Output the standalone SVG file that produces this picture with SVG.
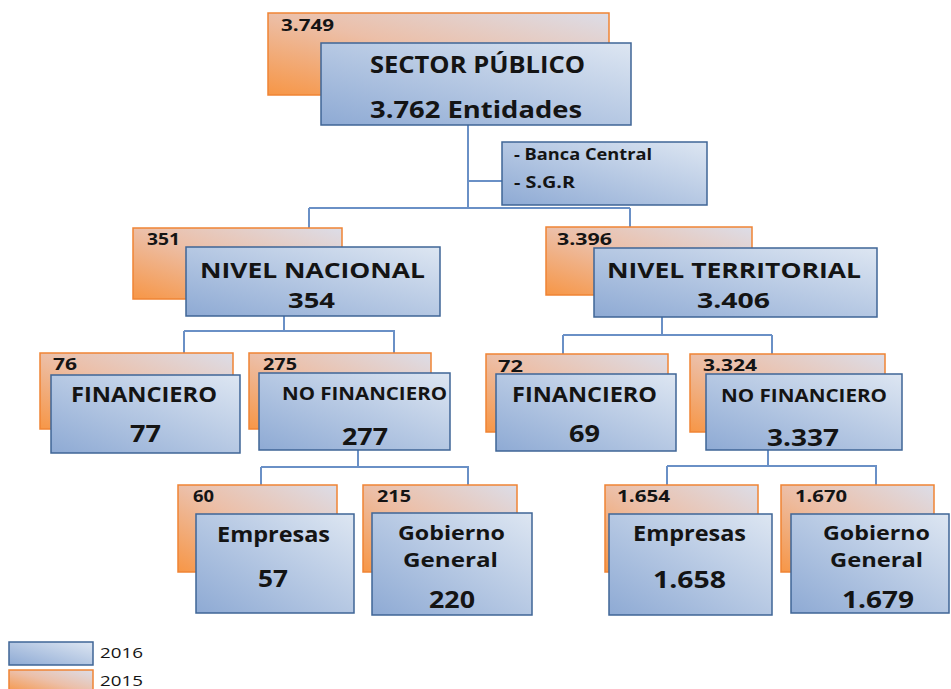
<svg xmlns="http://www.w3.org/2000/svg" width="951" height="689" viewBox="0 0 951 689">
<defs>
<linearGradient id="gB" x1="0" y1="1" x2="1" y2="0">
<stop offset="0" stop-color="#8eaad4"/>
<stop offset="1" stop-color="#dde6f2"/>
</linearGradient>
<linearGradient id="gO" x1="0" y1="1" x2="1" y2="0">
<stop offset="0" stop-color="#f79646"/>
<stop offset="0.5" stop-color="#ecbfa8"/>
<stop offset="1" stop-color="#dcdde8"/>
</linearGradient>
<style>
.o{fill:url(#gO);stroke:#ef8434;stroke-width:1.5}
.b{fill:url(#gB);stroke:#3f6596;stroke-width:1.5}
.c{fill:none;stroke:#6a90c6;stroke-width:2}
text{font-family:"Open Sans","Liberation Sans",sans-serif;font-weight:bold;fill:#141414}
.s{font-size:16px}
.m{font-size:22px}
.gg{font-size:19px}
.l{font-size:24px}
.n{font-size:18px}
.g{font-size:15px;font-weight:normal}
</style>
</defs>
<rect width="951" height="689" fill="#ffffff"/>
<g id="connectors">
<path class="c" d="M468,125 V208 M309,208 H630 M309,208 V228 M630,208 V227 M468,181 H502"/>
<path class="c" d="M284,316 V331 M184,331 H395 M184,331 V353 M394,331 V353"/>
<path class="c" d="M662,317 V335 M563,335 H772 M563,335 V354 M772,335 V354"/>
<path class="c" d="M358,450 V467 M261,467 H469 M261,467 V485 M468,467 V485"/>
<path class="c" d="M768,450 V466 M667,466 H877 M667,466 V485 M876,466 V485"/>
</g>
<g id="sector-publico">
<rect class="o" x="268" y="13" width="341" height="82"/>
<text class="s" x="281" y="31" textLength="53" lengthAdjust="spacingAndGlyphs">3.749</text>
<rect class="b" x="321" y="43" width="310" height="82"/>
<text class="l" x="370" y="73" textLength="215" lengthAdjust="spacingAndGlyphs">SECTOR PÚBLICO</text>
<text class="l" x="370" y="118" textLength="212" lengthAdjust="spacingAndGlyphs">3.762 Entidades</text>
</g>
<g id="banca-central">
<rect class="b" x="502" y="142" width="205" height="63"/>
<text class="s" x="514" y="160" textLength="138" lengthAdjust="spacingAndGlyphs">- Banca Central</text>
<text class="s" x="514" y="188" textLength="61" lengthAdjust="spacingAndGlyphs">- S.G.R</text>
</g>
<g id="nivel-nacional">
<rect class="o" x="133" y="228" width="209" height="71"/>
<text class="s" x="147" y="245" textLength="33" lengthAdjust="spacingAndGlyphs">351</text>
<rect class="b" x="186" y="247" width="254" height="69"/>
<text class="m" x="200" y="278" textLength="225" lengthAdjust="spacingAndGlyphs">NIVEL NACIONAL</text>
<text class="m" x="288" y="308" textLength="47" lengthAdjust="spacingAndGlyphs">354</text>
</g>
<g id="nivel-territorial">
<rect class="o" x="546" y="227" width="206" height="68"/>
<text class="s" x="557" y="245" textLength="55" lengthAdjust="spacingAndGlyphs">3.396</text>
<rect class="b" x="594" y="248" width="283" height="69"/>
<text class="m" x="607" y="278" textLength="254" lengthAdjust="spacingAndGlyphs">NIVEL TERRITORIAL</text>
<text class="m" x="697" y="308" textLength="73" lengthAdjust="spacingAndGlyphs">3.406</text>
</g>
<g id="financiero-nacional">
<rect class="o" x="40" y="353" width="193" height="76"/>
<text class="s" x="53" y="370" textLength="24" lengthAdjust="spacingAndGlyphs">76</text>
<rect class="b" x="51" y="375" width="189" height="78"/>
<text class="m" x="71" y="402" textLength="146" lengthAdjust="spacingAndGlyphs">FINANCIERO</text>
<text class="l" x="130" y="442" textLength="31" lengthAdjust="spacingAndGlyphs">77</text>
</g>
<g id="no-financiero-nacional">
<rect class="o" x="249" y="353" width="182" height="76"/>
<text class="s" x="263" y="370" textLength="34" lengthAdjust="spacingAndGlyphs">275</text>
<rect class="b" x="259" y="373" width="191" height="77"/>
<text class="n" x="282" y="400" textLength="165" lengthAdjust="spacingAndGlyphs">NO FINANCIERO</text>
<text class="l" x="342" y="445" textLength="46" lengthAdjust="spacingAndGlyphs">277</text>
</g>
<g id="financiero-territorial">
<rect class="o" x="486" y="354" width="182" height="78"/>
<text class="s" x="498" y="372" textLength="25" lengthAdjust="spacingAndGlyphs">72</text>
<rect class="b" x="496" y="374" width="180" height="77"/>
<text class="m" x="512" y="402" textLength="145" lengthAdjust="spacingAndGlyphs">FINANCIERO</text>
<text class="l" x="569" y="442" textLength="31" lengthAdjust="spacingAndGlyphs">69</text>
</g>
<g id="no-financiero-territorial">
<rect class="o" x="690" y="354" width="195" height="78"/>
<text class="s" x="703" y="371" textLength="54" lengthAdjust="spacingAndGlyphs">3.324</text>
<rect class="b" x="706" y="374" width="196" height="76"/>
<text class="n" x="721" y="402" textLength="166" lengthAdjust="spacingAndGlyphs">NO FINANCIERO</text>
<text class="l" x="767" y="446" textLength="72" lengthAdjust="spacingAndGlyphs">3.337</text>
</g>
<g id="empresas-nacional">
<rect class="o" x="178" y="485" width="159" height="87"/>
<text class="s" x="193" y="502" textLength="21" lengthAdjust="spacingAndGlyphs">60</text>
<rect class="b" x="196" y="514" width="158" height="99"/>
<text class="m" x="217" y="542" textLength="113" lengthAdjust="spacingAndGlyphs">Empresas</text>
<text class="l" x="258" y="587" textLength="30" lengthAdjust="spacingAndGlyphs">57</text>
</g>
<g id="gobierno-nacional">
<rect class="o" x="363" y="485" width="154" height="87"/>
<text class="s" x="377" y="502" textLength="34" lengthAdjust="spacingAndGlyphs">215</text>
<rect class="b" x="372" y="513" width="160" height="102"/>
<text class="gg" x="398" y="540" textLength="107" lengthAdjust="spacingAndGlyphs">Gobierno</text>
<text class="gg" x="403" y="567" textLength="95" lengthAdjust="spacingAndGlyphs">General</text>
<text class="l" x="429" y="608" textLength="46" lengthAdjust="spacingAndGlyphs">220</text>
</g>
<g id="empresas-territorial">
<rect class="o" x="605" y="485" width="153" height="87"/>
<text class="s" x="617" y="502" textLength="53" lengthAdjust="spacingAndGlyphs">1.654</text>
<rect class="b" x="609" y="514" width="163" height="101"/>
<text class="m" x="633" y="541" textLength="113" lengthAdjust="spacingAndGlyphs">Empresas</text>
<text class="l" x="653" y="588" textLength="73" lengthAdjust="spacingAndGlyphs">1.658</text>
</g>
<g id="gobierno-territorial">
<rect class="o" x="781" y="485" width="153" height="87"/>
<text class="s" x="795" y="502" textLength="52" lengthAdjust="spacingAndGlyphs">1.670</text>
<rect class="b" x="791" y="514" width="158" height="99"/>
<text class="gg" x="823" y="540" textLength="107" lengthAdjust="spacingAndGlyphs">Gobierno</text>
<text class="gg" x="830" y="567" textLength="93" lengthAdjust="spacingAndGlyphs">General</text>
<text class="l" x="842" y="608" textLength="72" lengthAdjust="spacingAndGlyphs">1.679</text>
</g>
<g id="legend">
<rect class="b" x="9" y="642" width="84" height="23"/>
<text class="g" x="100" y="658" textLength="43" lengthAdjust="spacingAndGlyphs">2016</text>
<rect class="o" x="9" y="670" width="84" height="23"/>
<text class="g" x="100" y="686" textLength="43" lengthAdjust="spacingAndGlyphs">2015</text>
</g>
</svg>
